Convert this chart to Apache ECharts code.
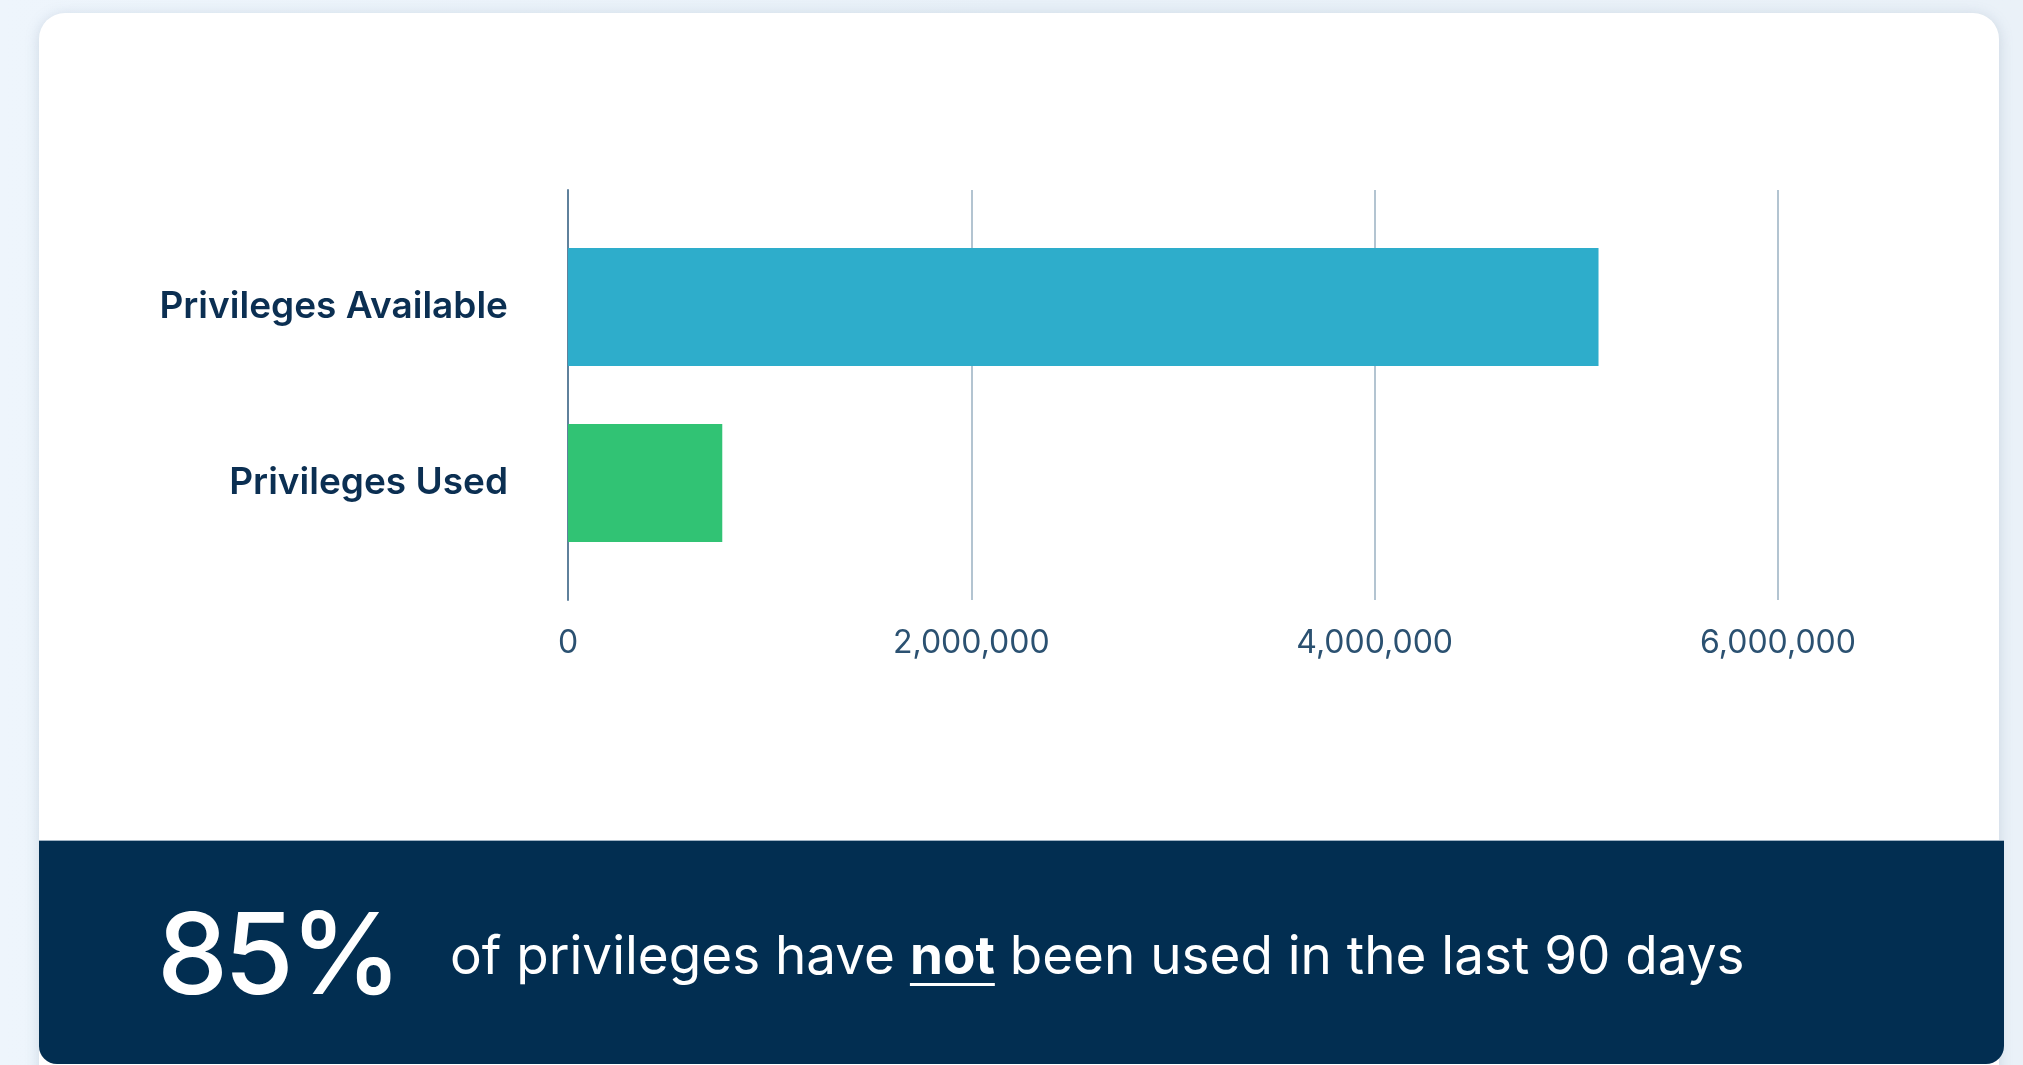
<!DOCTYPE html>
<html>
<head>
<meta charset="utf-8">
<title>Privileges</title>
<script src="https://cdn.jsdelivr.net/npm/echarts@6/dist/echarts.min.js"></script>
<style>
  html, body {
    margin: 0;
    padding: 0;
    width: 2023px;
    height: 1065px;
    overflow: hidden;
    background: linear-gradient(90deg, #eef5fc 0%, #e8f0f8 50%, #eaf1f8 100%);
    font-family: Inter, Lato, "Noto Sans", sans-serif;
  }
  .card {
    position: absolute;
    left: 39px;
    top: 13px;
    width: 1960px;
    height: 1100px;
    background: #ffffff;
    border-radius: 26px;
    box-shadow: 0 2px 14px rgba(120, 140, 165, 0.28);
  }
  .banner {
    position: absolute;
    left: 39px;
    top: 840px;
    width: 1965px;
    height: 223px;
    background: #022e51;
    border-top: 1px solid #9fb2c3;
    border-radius: 0 0 18px 18px;
    color: #ffffff;
  }
  .banner .big {
    position: absolute;
    left: 118px;
    top: 42px;
    font-size: 113px;
    line-height: 140px;
    font-weight: 500;
    letter-spacing: -4px;
  }
  .banner .txt {
    position: absolute;
    left: 411px;
    top: 79px;
    font-size: 53px;
    line-height: 70px;
  }
  .banner .txt b {
    font-weight: 700;
    text-decoration: underline;
    text-decoration-thickness: 3px;
    text-underline-offset: 9px;
  }
  #chart {
    position: absolute;
    left: 0;
    top: 0;
    width: 2023px;
    height: 1065px;
  }
</style>
</head>
<body>
<div class="card"></div>
<div id="chart"></div>
<div class="banner">
  <span class="big">85%</span>
  <span class="txt">of privileges have <b>not</b> been used in the last 90 days</span>
</div>
<script>
  // data
  const categories = ["Privileges Available", "Privileges Used"];
  const values = [5110000, 765000];
  const barColors = ["#2eadcb", "#31c374"];
  const axisMax = 6000000;
  const axisStep = 2000000;

  const chart = echarts.init(document.getElementById("chart"));

  const fmt = (v) => v.toLocaleString("en-US");

  const option = {
    animation: false,
    grid: [
      // frame grid: gridlines + zero line
      { left: 568, top: 190, width: 1210, height: 410 },
      // bars grid
      { left: 568, top: 219, width: 1210, height: 352 },
    ],
    xAxis: [
      {
        gridIndex: 0,
        type: "value",
        min: 0,
        max: axisMax,
        interval: axisStep,
        axisLine: { show: false },
        axisTick: { show: false },
        splitLine: { lineStyle: { color: "#b3c4d1", width: 2 } },
        axisLabel: {
          formatter: fmt,
          fontSize: 32,
          color: "#2b5171",
          margin: 27,
          fontFamily: "Inter",
        },
      },
      {
        gridIndex: 1,
        type: "value",
        min: 0,
        max: axisMax,
        show: false,
      },
    ],
    yAxis: [
      {
        gridIndex: 0,
        type: "category",
        data: [""],
        axisLine: { show: true, lineStyle: { color: "#5f819c", width: 2 } },
        axisTick: { show: false },
        axisLabel: { show: false },
      },
      {
        gridIndex: 1,
        type: "category",
        inverse: true,
        data: categories,
        axisLine: { show: false },
        axisTick: { show: false },
        axisLabel: {
          fontSize: 37,
          fontWeight: 600,
          color: "#0b2f52",
          margin: 60,
          fontFamily: "Inter",
        },
      },
    ],
    series: [
      {
        type: "bar",
        xAxisIndex: 1,
        yAxisIndex: 1,
        barWidth: 118,
        data: values.map((v, i) => ({
          value: v,
          itemStyle: { color: barColors[i] },
        })),
      },
    ],
  };

  chart.setOption(option);
</script>
</body>
</html>
